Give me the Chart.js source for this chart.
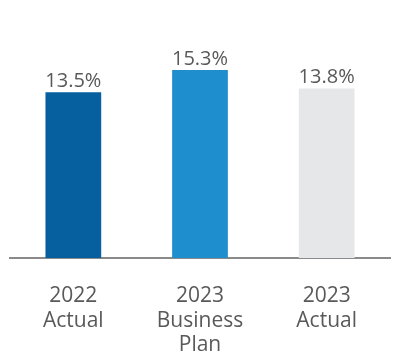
<!DOCTYPE html>
<html>
<head>
<meta charset="utf-8">
<script src="https://cdn.jsdelivr.net/npm/chart.js@4"></script>
<style>
  html, body { margin: 0; padding: 0; background: #fff; }
  #wrap { width: 400px; height: 360px; }
</style>
</head>
<body>
<div id="wrap"><canvas id="chart"></canvas></div>
<script>
// Data
const categories = [['2022', 'Actual'], ['2023', 'Business', 'Plan'], ['2023', 'Actual']];
const values = [13.5, 15.3, 13.8];
const barColors = ['#065f9e', '#1f8ecf', '#e6e7e8'];

// Percent labels above each bar
const valueLabels = {
  id: 'valueLabels',
  afterDatasetsDraw(chart) {
    const ctx = chart.ctx;
    const meta = chart.getDatasetMeta(0);
    ctx.save();
    ctx.font = '20px "Open Sans"';
    ctx.fillStyle = '#595959';
    ctx.textAlign = 'center';
    ctx.textBaseline = 'alphabetic';
    meta.data.forEach((bar, i) => {
      ctx.fillText(values[i].toFixed(1) + '%', bar.x, bar.y - 5);
    });
    ctx.restore();
  }
};

new Chart(document.getElementById('chart'), {
  type: 'bar',
  data: {
    labels: categories,
    datasets: [{
      data: values,
      backgroundColor: barColors,
      barPercentage: 0.44,
      categoryPercentage: 1
    }]
  },
  options: {
    responsive: true,
    maintainAspectRatio: false,
    animation: false,
    layout: { padding: { left: 10, right: 10, top: 0, bottom: 0 } },
    plugins: { legend: { display: false }, tooltip: { enabled: false } },
    scales: {
      y: { display: false, min: 0, max: 21 },
      x: {
        grid: { display: false },
        border: { display: true, color: '#8a8a8a', width: 2 },
        ticks: {
          color: '#595959',
          font: { family: 'Open Sans', size: 21, lineHeight: 1.17 },
          padding: 18,
          maxRotation: 0
        },
        afterFit(scale) { scale.height = 102; }
      }
    }
  },
  plugins: [valueLabels]
});
</script>
</body>
</html>
